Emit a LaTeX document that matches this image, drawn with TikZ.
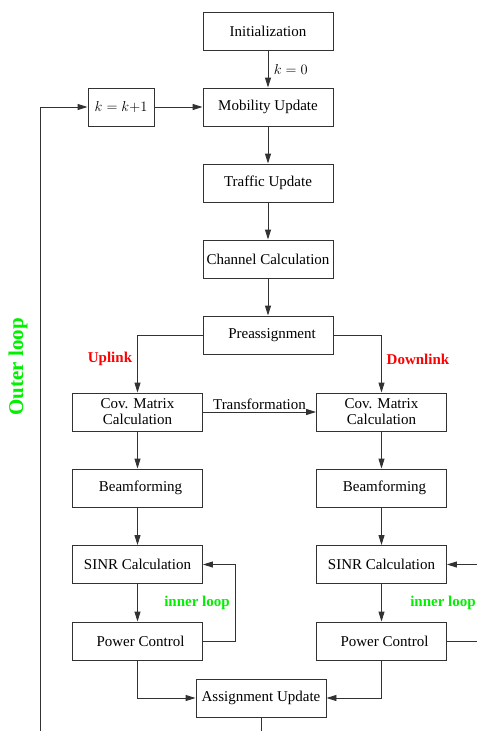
\documentclass[tikz,border=0pt]{standalone}
\usepackage{fontspec}
\setmainfont{Liberation Serif}
\usetikzlibrary{arrows.meta}
\definecolor{lgreen}{RGB}{0,240,0}
\definecolor{lred}{RGB}{255,0,0}
\definecolor{linec}{RGB}{50,50,50}
\tikzset{
  blk/.style={draw=linec, line width=0.9pt, minimum width=130pt, minimum height=38pt, inner sep=1pt, align=center, font=\fontsize{15}{16}\selectfont},
  kblk/.style={blk, minimum width=66pt},
  conn/.style={draw=linec, line width=0.9pt},
  arr/.style={conn, -{Triangle[length=10pt,width=6pt]}},
  redlab/.style={text=lred, font=\fontsize{15}{16}\selectfont\bfseries},
  greenlab/.style={text=lgreen, font=\fontsize{15}{16}\selectfont\bfseries},
  plainlab/.style={font=\fontsize{15}{16}\selectfont},
}
\begin{document}
\begin{tikzpicture}[x=1pt,y=-1pt]
\useasboundingbox (0,0) rectangle (477,731);
% main column
\node[blk] (init) at (268,31) {Initialization};
\node[blk] (mob) at (268,107) {Mobility Update};
\node[kblk] (kk) at (121,107) {$k=k{+}1$};
\node[blk] (traf) at (268,183) {Traffic Update};
\node[blk] (chan) at (268,259) {Channel Calculation};
\node[blk] (pre) at (268,335) {\hspace*{8pt}Preassignment};
% left branch
\node[blk] (covl) at (137.5,412) {Cov. Matrix\\Calculation};
\node[blk] (beaml) at (137.5,488) {\hspace*{6pt}Beamforming};
\node[blk] (sinrl) at (137.5,564.5) {SINR Calculation};
\node[blk] (pcl) at (137.5,641) {\hspace*{6pt}Power Control};
% right branch
\node[blk] (covr) at (381.5,412) {Cov. Matrix\\Calculation};
\node[blk] (beamr) at (381.5,488) {\hspace*{6pt}Beamforming};
\node[blk] (sinrr) at (381.5,564.5) {SINR Calculation};
\node[blk] (pcr) at (381.5,641) {\hspace*{6pt}Power Control};
% assignment
\node[blk] (asg) at (261,698) {Assignment Update};
% coordinates
\coordinate (outerB) at (40,731);
\coordinate (outerT) at (40,107);
\coordinate (asgB) at (261,731);
\coordinate (fbl) at (235,641);
\coordinate (fblt) at (235,564.5);
\coordinate (fbrB) at (477,641);
\coordinate (fbrT) at (477,564.5);
% connectors
\draw[arr] (init) -- node[plainlab, right, xshift=2pt] {$k=0$} (mob);
\draw[arr] (kk) -- (mob);
\draw[arr] (outerB) -- (outerT) -- (kk);
\draw[arr] (mob) -- (traf);
\draw[arr] (traf) -- (chan);
\draw[arr] (chan) -- (pre);
\draw[arr] (pre.west) -| (covl.north);
\draw[arr] (pre.east) -| (covr.north);
\draw[arr] (covl) -- node[plainlab, above, yshift=-1pt] {Transformation} (covr);
\draw[arr] (covl) -- (beaml);
\draw[arr] (beaml) -- (sinrl);
\draw[arr] (sinrl) -- (pcl);
\draw[arr] (pcl.east) -- (fbl) -- (fblt) -- (sinrl.east);
\draw[arr] (covr) -- (beamr);
\draw[arr] (beamr) -- (sinrr);
\draw[arr] (sinrr) -- (pcr);
\draw[conn] (pcr.east) -- (fbrB);
\draw[arr] (fbrT) -- (sinrr.east);
\draw[arr] (pcl.south) |- (asg.west);
\draw[arr] (pcr.south) |- (asg.east);
\draw[conn] (asg.south) -- (asgB);
% labels
\node[redlab] (ul) at (110,359) {Uplink};
\node[redlab] (dl) at (418,359) {Downlink};
\node[greenlab] (il) at (197,603) {inner loop};
\node[greenlab] (ir) at (443,603) {inner loop};
\node[text=lgreen, font=\fontsize{21}{22}\selectfont\bfseries, rotate=90] (ol) at (18,367) {Outer loop};
\end{tikzpicture}
\end{document}
